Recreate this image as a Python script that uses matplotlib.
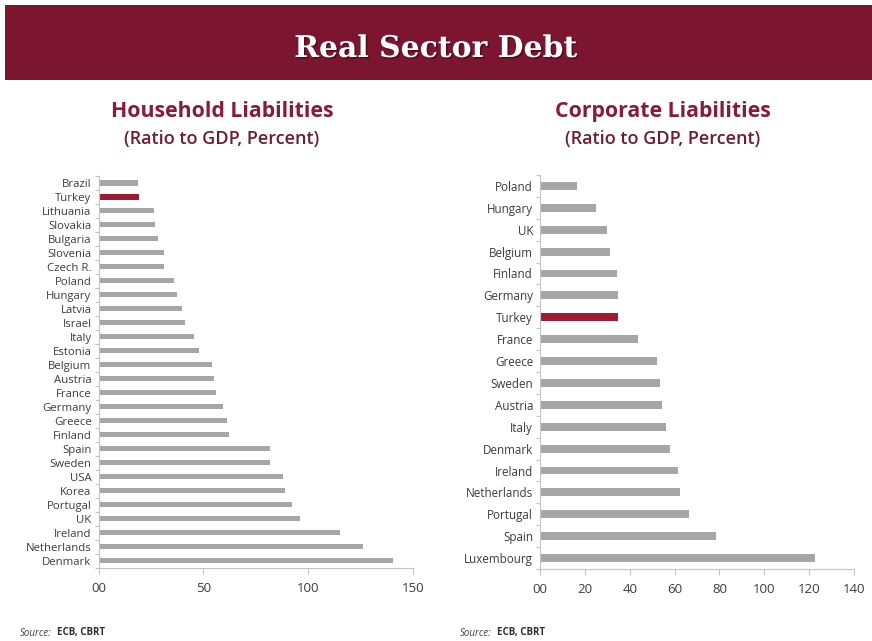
import matplotlib
matplotlib.use("Agg")
import matplotlib.pyplot as plt
import matplotlib.patheffects as pe
from matplotlib.patches import Rectangle

# household liabilities, ratio to GDP (%)
household_countries = [
    "Brazil", "Turkey", "Lithuania", "Slovakia", "Bulgaria", "Slovenia", "Czech R.",
    "Poland", "Hungary", "Latvia", "Israel", "Italy", "Estonia", "Belgium", "Austria",
    "France", "Germany", "Greece", "Finland", "Spain", "Sweden", "USA", "Korea",
    "Portugal", "UK", "Ireland", "Netherlands", "Denmark",
]
household_values = [
    18.7, 19.1, 26.4, 27.0, 28.2, 31.0, 31.3, 36.0, 37.2, 39.9, 41.0, 45.3, 47.7, 54.2,
    54.9, 55.8, 59.3, 61.1, 62.4, 81.5, 81.9, 87.8, 89.1, 92.3, 95.8, 115.0, 126.0, 140.5,
]
household_ticks = [0, 50, 100, 150]
household_ticklabels = ["00", "50", "100", "150"]

# corporate liabilities, ratio to GDP (%)
corporate_countries = [
    "Poland", "Hungary", "UK", "Belgium", "Finland", "Germany", "Turkey", "France",
    "Greece", "Sweden", "Austria", "Italy", "Denmark", "Ireland", "Netherlands",
    "Portugal", "Spain", "Luxembourg",
]
corporate_values = [
    16.4, 25.0, 30.0, 31.2, 34.3, 34.9, 34.9, 43.6, 52.0, 53.5, 54.5, 56.3, 58.1, 61.7,
    62.3, 66.4, 78.6, 122.7,
]
corporate_ticks = [0, 20, 40, 60, 80, 100, 120, 140]
corporate_ticklabels = ["00", "20", "40", "60", "80", "100", "120", "140"]

MAROON = "#7c1630"
BAR_GREY = "#a6a6a6"
HIGHLIGHT = "#9e1b32"
LABEL = "#3c3c3c"
SPINE = "#c4c4c4"
FONT = "Open Sans"


def draw_bars(ax, countries, values, ticks, ticklabels, xmax, ysize, xsize):
    n = len(countries)
    colors = [HIGHLIGHT if c == "Turkey" else BAR_GREY for c in countries]
    ax.barh(range(n), values, height=0.36, color=colors, zorder=2)
    ax.set_ylim(n - 0.5, -0.5)
    ax.set_xlim(0, xmax)

    ax.set_yticks(range(n))
    ax.set_yticklabels(countries, fontsize=ysize, color=LABEL, family=FONT)
    ax.set_yticks([i + 0.5 for i in range(-1, n)], minor=True)
    ax.tick_params(axis="y", which="major", length=0, pad=5)
    ax.tick_params(axis="y", which="minor", length=3, color=SPINE, width=0.8)

    ax.set_xticks(ticks)
    ax.set_xticklabels(ticklabels, fontsize=xsize, color=LABEL, family=FONT)
    ax.tick_params(axis="x", length=4, color=SPINE, width=0.8, pad=6)

    for side in ("top", "right"):
        ax.spines[side].set_visible(False)
    for side in ("left", "bottom"):
        ax.spines[side].set_color(SPINE)
        ax.spines[side].set_linewidth(0.8)


fig = plt.figure(figsize=(8.72, 6.41), dpi=100)
fig.patch.set_facecolor("white")

# header band
fig.patches.append(Rectangle((5 / 872, 1 - 80 / 641), 1.0, 75 / 641,
                             transform=fig.transFigure, facecolor=MAROON,
                             edgecolor="none", zorder=0))
fig.text(0.5, 1 - 57 / 641, "Real Sector Debt", ha="center", va="baseline",
         color="white", fontsize=21.5, fontweight="bold", family="DejaVu Serif",
         path_effects=[pe.withSimplePatchShadow(offset=(1.2, -1.2), shadow_rgbFace="#3a0812",
                                                alpha=0.6)])

# panel headings
for xc, heading in ((222 / 872, "Household Liabilities"), (663 / 872, "Corporate Liabilities")):
    fig.text(xc, 1 - 117 / 641, heading, ha="center", va="baseline",
             color="#8b1a37", fontsize=15.3, fontweight="bold", family=FONT)
    fig.text(xc, 1 - 144 / 641, "(Ratio to GDP, Percent)", ha="center", va="baseline",
             color="#6e1d2e", fontsize=13, fontweight="semibold", family=FONT)

ax1 = fig.add_axes([98.5 / 872, 1 - 567.7 / 641, 314.8 / 872, 391.7 / 641])
draw_bars(ax1, household_countries, household_values, household_ticks,
          household_ticklabels, 150, 8.2, 9.5)

ax2 = fig.add_axes([540 / 872, 1 - 569 / 641, 314 / 872, 394 / 641])
draw_bars(ax2, corporate_countries, corporate_values, corporate_ticks,
          corporate_ticklabels, 140, 8.4, 9.5)

# source notes
for x0 in (20 / 872, 460 / 872):
    fig.text(x0, 1 - 633 / 641, "Source:", ha="left", va="center",
             color="#404040", fontsize=7, style="italic", family=FONT)
    fig.text(x0 + 37 / 872, 1 - 633 / 641, "ECB, CBRT", ha="left", va="center",
             color="#303030", fontsize=7, fontweight="bold", family=FONT)

fig.savefig("out.png", dpi=100)
